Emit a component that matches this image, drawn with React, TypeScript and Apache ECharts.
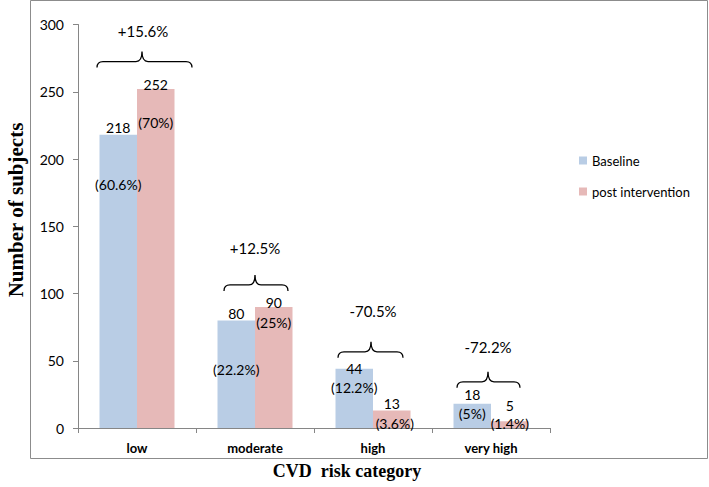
import React, { useEffect, useRef } from "react";
import * as echarts from "echarts";

// ---- data ----
const categories = ["low", "moderate", "high", "very high"];
const baseline = [218, 80, 44, 18];
const postIntervention = [252, 90, 13, 5];
const baselinePct = ["(60.6%)", "(22.2%)", "(12.2%)", "(5%)"];
const postPct = ["(70%)", "(25%)", "(3.6%)", "(1.4%)"];
const changeLabels = ["+15.6%", "+12.5%", "-70.5%", "-72.2%"];
const yMin = 0;
const yMax = 300;
const yStep = 50;

// ---- layout (px offsets) ----
const BAR_W = 37.5;
const baseCountDy = [-7, -7, 0, -9];
const postCountDy = [-5, -4, -7, -16];
const basePctDy = [50, 49.5, 18.4, 9.5];
const postPctDy = [33, 15.6, 12.8, 2.7];
const postPctDx = [0, 0, 3, 0];
const braceLeft = [-40, -31, -35, -34];
const braceRight = [55, 33, 30, 29];
const braceTip = [5, 0, -2, -3];
const braceAbove = [27.5, 22, 17, 22];
const textAbove = [31, 37, 41, 35];
const textDx = [6, 0, 0, -3];

const FONT = "Lato, 'Open Sans', sans-serif";
const SERIF = "'Liberation Serif', 'DejaVu Serif', serif";

export default function App() {
  const ref = useRef<HTMLDivElement>(null);
  useEffect(() => {
    if (!ref.current) return;
    const chart = echarts.init(ref.current, undefined, { renderer: "svg" });

    const labelData: any[] = [];
    categories.forEach((_, i) => {
      labelData.push([i, baseline[i], 0]);
      labelData.push([i, postIntervention[i], 1]);
    });

    const braceData = categories.map((_, i) => [i, Math.max(baseline[i], postIntervention[i])]);

    chart.setOption({
      animation: false,
      backgroundColor: "#fff",
      textStyle: { fontFamily: FONT },
      grid: { left: 78, right: 159, top: 24.5, bottom: 59 },
      legend: {
        data: ["Baseline", "post intervention"],
        orient: "vertical",
        left: 574,
        top: 149,
        itemWidth: 8,
        itemHeight: 8,
        itemGap: 18,
        icon: "rect",
        textStyle: { fontSize: 13, color: "#000", fontFamily: FONT },
      },
      xAxis: {
        type: "category",
        data: categories,
        axisLine: { lineStyle: { color: "#868686" } },
        axisTick: { show: true, length: 5, lineStyle: { color: "#868686" } },
        axisLabel: { color: "#000", fontWeight: "bold", fontSize: 13, margin: 13, fontFamily: FONT },
      },
      yAxis: {
        type: "value",
        min: yMin,
        max: yMax,
        interval: yStep,
        axisLine: { show: true, lineStyle: { color: "#868686" } },
        axisTick: { show: true, length: 5, lineStyle: { color: "#868686" } },
        splitLine: { show: false },
        axisLabel: { color: "#000", fontSize: 14, margin: 14, fontFamily: FONT },
      },
      graphic: [
        {
          type: "rect",
          shape: { x: 30.5, y: 0.5, width: 677, height: 458 },
          style: { fill: "none", stroke: "#8c8c8c", lineWidth: 1 },
          silent: true,
        },
        {
          type: "text",
          x: 16,
          y: 210,
          rotation: Math.PI / 2,
          style: {
            text: "Number of subjects",
            font: `bold 21px ${SERIF}`,
            fill: "#000",
            align: "center",
            verticalAlign: "middle",
          },
        },
        {
          type: "text",
          x: 347,
          y: 471,
          style: {
            text: "CVD  risk category",
            font: `bold 18px ${SERIF}`,
            fill: "#000",
            align: "center",
            verticalAlign: "middle",
          },
        },
      ],
      series: [
        {
          name: "Baseline",
          type: "bar",
          data: baseline,
          barWidth: BAR_W,
          barGap: "0%",
          itemStyle: { color: "#B9CDE5" },
        },
        {
          name: "post intervention",
          type: "bar",
          data: postIntervention,
          barWidth: BAR_W,
          barGap: "0%",
          itemStyle: { color: "#E6B9B8" },
        },
        {
          name: "labels",
          type: "custom",
          z: 10,
          clip: false,
          silent: true,
          data: labelData,
          renderItem: (params: any, api: any) => {
            const i = api.value(0);
            const side = api.value(2);
            const p = api.coord([i, api.value(1)]);
            const cx = p[0] + (side === 0 ? -BAR_W / 2 : BAR_W / 2);
            const top = p[1];
            const count = side === 0 ? baseline[i] : postIntervention[i];
            const pct = side === 0 ? baselinePct[i] : postPct[i];
            const cdy = side === 0 ? baseCountDy[i] : postCountDy[i];
            const pdy = side === 0 ? basePctDy[i] : postPctDy[i];
            const pdx = side === 0 ? 0 : postPctDx[i];
            return {
              type: "group",
              children: [
                {
                  type: "text",
                  z2: 10,
                  style: {
                    text: String(count),
                    x: cx,
                    y: top + cdy,
                    align: "center",
                    verticalAlign: "middle",
                    fontSize: 14,
                    fontFamily: FONT,
                    fill: "#000",
                  },
                },
                {
                  type: "text",
                  z2: 10,
                  style: {
                    text: pct,
                    x: cx + pdx,
                    y: top + pdy,
                    align: "center",
                    verticalAlign: "middle",
                    fontSize: 14,
                    fontFamily: FONT,
                    fill: "#000",
                  },
                },
              ],
            };
          },
        },
        {
          name: "braces",
          type: "custom",
          z: 10,
          clip: false,
          silent: true,
          data: braceData,
          renderItem: (params: any, api: any) => {
            const i = api.value(0);
            const p = api.coord([i, api.value(1)]);
            const cx = p[0];
            const ly = p[1] - braceAbove[i];
            const L = cx + braceLeft[i];
            const R = cx + braceRight[i];
            const T = cx + braceTip[i];
            const r = 6;
            const d =
              `M${L},${ly + 6} Q${L},${ly} ${L + r},${ly} L${T - r},${ly} ` +
              `Q${T},${ly} ${T},${ly - 10} Q${T},${ly} ${T + r},${ly} ` +
              `L${R - r},${ly} Q${R},${ly} ${R},${ly + 6}`;
            return {
              type: "group",
              children: [
                {
                  type: "path",
                  shape: { pathData: d },
                  style: { fill: "none", stroke: "#000", lineWidth: 1.3 },
                },
                {
                  type: "text",
                  style: {
                    text: changeLabels[i],
                    x: cx + textDx[i],
                    y: ly - textAbove[i],
                    align: "center",
                    verticalAlign: "middle",
                    fontSize: 15,
                    fontFamily: FONT,
                    fill: "#000",
                  },
                },
              ],
            };
          },
        },
      ],
    });
    return () => chart.dispose();
  }, []);

  return <div ref={ref} style={{ width: 709, height: 487, position: "absolute", left: 0, top: 0 }} />;
}
